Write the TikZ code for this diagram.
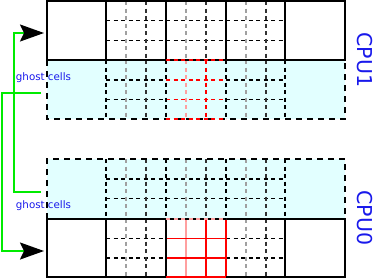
\documentclass[tikz,border=0pt]{standalone}
\usepackage{fontspec}
\setmainfont{DejaVu Sans}
\usetikzlibrary{arrows.meta}
\definecolor{ghostfill}{RGB}{226,255,255}
\definecolor{lgray}{RGB}{160,160,160}
\definecolor{dgray}{RGB}{50,50,50}
\definecolor{pinkred}{RGB}{255,160,160}
\definecolor{glinecol}{RGB}{0,235,0}
\definecolor{lblue}{RGB}{25,25,235}
\tikzset{
  solidline/.style={black, line width=1.3pt},
  bordash/.style={black, line width=1.2pt, dash pattern=on 6pt off 5pt},
  finedash/.style={line width=1.1pt, dash pattern=on 4pt off 3.5pt},
  greenline/.style={glinecol, line width=1.9pt, -{Stealth[length=24pt,width=17pt,inset=4pt,black]}},
  ghosttext/.style={lblue, font=\fontsize{10.3}{12}\selectfont, inner sep=0pt},
  cputext/.style={lblue, font=\fontsize{20.5}{24}\selectfont, inner sep=0pt, rotate=-90}
}
\begin{document}
\begin{tikzpicture}[x=1pt,y=-1pt]
\useasboundingbox (0,0) rectangle (374,279);
% ---------- ghost region fills ----------
\fill[ghostfill] (47,60) rectangle (345,119);
\fill[ghostfill] (47,159) rectangle (345,219);

% ---------- top block (CPU1 interior) y 1..60 ----------
\foreach \y in {20.5,40.5} \draw[finedash,black] (106,\y) -- (285,\y);
\foreach \x in {126,186,246} \draw[finedash,lgray] (\x,1) -- (\x,60);
\foreach \x in {146,206,266} \draw[finedash,dgray] (\x,1) -- (\x,60);

% ---------- top ghost y 60..119 ----------
\foreach \y in {80,99.5} {
  \draw[finedash,black] (106,\y) -- (166,\y);
  \draw[finedash,black] (226,\y) -- (285,\y);
  \draw[finedash,red] (166,\y) -- (226,\y);
}
\foreach \x in {126,246} \draw[finedash,lgray] (\x,60) -- (\x,119);
\foreach \x in {146,266} \draw[finedash,dgray] (\x,60) -- (\x,119);
\draw[finedash,pinkred] (186,60) -- (186,119);
\draw[finedash,red] (206,60) -- (206,119);
\foreach \x in {106,166,226,285} \draw[finedash,black] (\x,60) -- (\x,119);
\draw[bordash] (47,60) -- (47,119) -- (345,119) -- (345,60);
\draw[finedash,red,line width=1.2pt] (166,119) -- (226,119);

% top block solid lines
\foreach \x in {106,166,226,285} \draw[solidline] (\x,1) -- (\x,60);
\draw[solidline] (47,1) rectangle (345,60);
\draw[finedash,red,line width=1.3pt] (166,60) -- (226,60);

% ---------- bottom ghost y 159..219 ----------
\foreach \y in {179,198.5} \draw[finedash,black] (106,\y) -- (285,\y);
\foreach \x in {126,186,246} \draw[finedash,lgray] (\x,159) -- (\x,219);
\foreach \x in {146,206,266} \draw[finedash,dgray] (\x,159) -- (\x,219);
\foreach \x in {106,166,226,285} \draw[finedash,black] (\x,159) -- (\x,219);
\draw[bordash] (47,219) -- (47,159) -- (345,159) -- (345,219);

% ---------- bottom block (CPU0 interior) y 219..277 ----------
\foreach \y in {238.5,258} {
  \draw[finedash,black] (106,\y) -- (166,\y);
  \draw[finedash,black] (226,\y) -- (285,\y);
}
\foreach \x in {126,246} \draw[finedash,lgray] (\x,219) -- (\x,277);
\foreach \x in {146,266} \draw[finedash,dgray] (\x,219) -- (\x,277);
% red solid inner grid
\draw[pinkred,line width=1.1pt] (186,219) -- (186,277);
\draw[red,line width=1.1pt] (206,219) -- (206,277);
\foreach \y in {238.5,258} \draw[red,line width=1.2pt] (166,\y) -- (226,\y);
\foreach \x in {106,166,285} \draw[solidline] (\x,219) -- (\x,277);
\draw[red,line width=1.2pt] (226,219) -- (226,277);
\draw[solidline] (47,219) rectangle (345,277);
\draw[red,line width=1.3pt] (166,277) -- (226,277);
\draw[finedash,pinkred,line width=1.3pt] (166,219) -- (226,219);

% ---------- labels ----------
\node[ghosttext] (gtop) at (43.5,77.5) {ghost cells};
\node[ghosttext] (gbot) at (43.5,206) {ghost cells};
\node[cputext] (cpu1) at (365,60) {CPU1};
\node[cputext] (cpu0) at (365,218) {CPU0};

% ---------- green connectors ----------
\coordinate (srcA) at (41,192);
\coordinate (knA) at (14,192);
\coordinate (dstA) at (44,33);
\coordinate (srcB) at (41,93);
\coordinate (knB) at (2,93);
\coordinate (dstB) at (44,251);
\draw[greenline] (srcA) -- (knA) |- (dstA);
\draw[greenline] (srcB) -- (knB) |- (dstB);
\end{tikzpicture}
\end{document}
